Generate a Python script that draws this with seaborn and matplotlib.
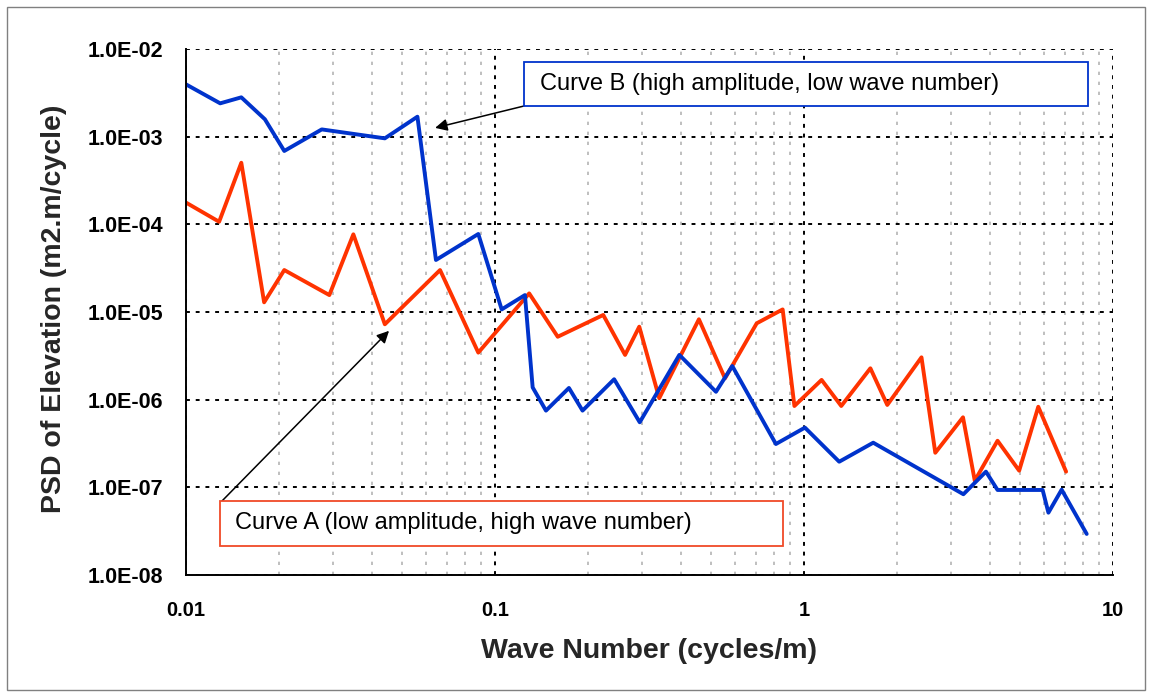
import numpy as np
import pandas as pd
import matplotlib
matplotlib.use("Agg")
import matplotlib.pyplot as plt
from matplotlib.patches import Rectangle
from matplotlib.ticker import FuncFormatter, LogLocator, NullFormatter
import seaborn as sns

# Curve B: high amplitude, low wave number
wave_b = [0.01, 0.0129, 0.0151, 0.0180, 0.0208, 0.0275, 0.0440, 0.0561, 0.0644,
          0.0883, 0.1051, 0.125, 0.1324, 0.1462, 0.1735, 0.192, 0.243, 0.294,
          0.395, 0.519, 0.586, 0.811, 1.007, 1.30, 1.675, 3.28, 3.88, 4.23,
          5.92, 6.18, 6.82, 8.22]
psd_b = [3.95e-3, 2.40e-3, 2.81e-3, 1.58e-3, 6.87e-4, 1.21e-3, 9.57e-4, 1.69e-3,
         3.92e-5, 7.76e-5, 1.07e-5, 1.56e-5, 1.38e-6, 7.5e-7, 1.36e-6, 7.5e-7,
         1.71e-6, 5.52e-7, 3.24e-6, 1.23e-6, 2.42e-6, 3.12e-7, 4.8e-7, 1.96e-7,
         3.23e-7, 8.34e-8, 1.51e-7, 9.33e-8, 9.33e-8, 5.14e-8, 9.4e-8, 2.94e-8]

# Curve A: low amplitude, high wave number
wave_a = [0.01, 0.0128, 0.0151, 0.0179, 0.0208, 0.0291, 0.0348, 0.0440, 0.0664,
          0.0883, 0.129, 0.1596, 0.224, 0.2636, 0.293, 0.340, 0.457, 0.555,
          0.703, 0.853, 0.931, 1.14, 1.32, 1.64, 1.86, 2.40, 2.66, 3.27, 3.57,
          4.23, 4.97, 5.73, 7.05]
psd_a = [1.77e-4, 1.07e-4, 5.04e-4, 1.29e-5, 3.01e-5, 1.56e-5, 7.69e-5, 7.24e-6,
         3.01e-5, 3.44e-6, 1.63e-5, 5.22e-6, 9.25e-6, 3.24e-6, 6.8e-6, 1.04e-6,
         8.26e-6, 1.75e-6, 7.43e-6, 1.07e-5, 8.47e-7, 1.68e-6, 8.47e-7, 2.28e-6,
         8.7e-7, 3.04e-6, 2.48e-7, 6.29e-7, 1.19e-7, 3.40e-7, 1.55e-7, 8.3e-7,
         1.51e-7]

x_ticks = [0.01, 0.1, 1, 10]
x_tick_labels = ["0.01", "0.1", "1", "10"]
y_ticks = [1e-8, 1e-7, 1e-6, 1e-5, 1e-4, 1e-3, 1e-2]

label_b = "Curve B (high amplitude, low wave number)"
label_a = "Curve A (low amplitude, high wave number)"

df = pd.concat([
    pd.DataFrame({"wave": wave_b, "psd": psd_b, "curve": "B"}),
    pd.DataFrame({"wave": wave_a, "psd": psd_a, "curve": "A"}),
], ignore_index=True)

sns.set_style("white")
plt.rcParams["font.family"] = ["Liberation Sans", "DejaVu Sans"]

blue = "#0033CC"
red = "#FF3300"

W, H = 1152, 697
fig = plt.figure(figsize=(W / 100, H / 100), dpi=100)
ax = fig.add_axes([186 / W, 1 - 575 / H, (1113 - 186) / W, (575 - 49) / H])


def px(x, y):
    """Pixel position (from top-left) to figure fraction."""
    return x / W, 1 - y / H


# outer frame of the chart area
fig.patches.append(Rectangle(px(7, 690), 1138 / W, 683 / H,
                             transform=fig.transFigure, fill=False,
                             edgecolor="#808080", linewidth=1.0))

sns.lineplot(data=df, x="wave", y="psd", hue="curve", palette={"B": blue, "A": red},
             hue_order=["A", "B"], sort=False, estimator=None, linewidth=2.8,
             legend=False, ax=ax)

ax.set_xscale("log")
ax.set_yscale("log")
ax.set_xlim(0.01, 10)
ax.set_ylim(1e-8, 1e-2)

ax.set_xticks(x_ticks)
ax.set_xticklabels(x_tick_labels)
ax.xaxis.set_minor_locator(LogLocator(base=10, subs=np.arange(2, 10)))
ax.xaxis.set_minor_formatter(NullFormatter())
ax.set_yticks(y_ticks)
ax.yaxis.set_minor_locator(plt.NullLocator())
ax.yaxis.set_major_formatter(FuncFormatter(lambda v, p: f"{v:.1E}"))

ax.grid(which="major", axis="both", color="black", linestyle=(0, (2, 3)), linewidth=1.4)
ax.grid(which="minor", axis="x", color="#b4b4b4", linestyle=(0, (2, 4)), linewidth=1.2)
ax.set_axisbelow(True)

for side in ["top", "right"]:
    ax.spines[side].set_visible(False)
for side in ["left", "bottom"]:
    ax.spines[side].set_color("black")
    ax.spines[side].set_linewidth(1.4)

ax.tick_params(axis="both", which="major", direction="out", length=6, width=1.0,
               colors="black")
ax.tick_params(axis="y", labelsize=15.5, pad=10.5)
ax.tick_params(axis="x", labelsize=14.5, pad=12.5)
ax.tick_params(axis="x", which="minor", length=0)
for lbl in ax.get_xticklabels() + ax.get_yticklabels():
    lbl.set_fontweight("bold")

ax.set_xlabel("Wave Number (cycles/m)", fontsize=20.5, fontweight="bold", va="center")
ax.set_ylabel("PSD of Elevation (m2.m/cycle)", fontsize=20.5, fontweight="bold", va="center")
ax.xaxis.set_label_coords(0.4995, -0.1445)
ax.yaxis.set_label_coords(-0.1424, 0.5067)

# callout boxes with their arrows
callouts = [
    (label_b, blue, (524, 62, 1088, 106), (540, 84), (524, 106), (0.064, 1.26e-3)),
    (label_a, "#F04A28", (220, 501, 783, 546), (235, 523), (222, 501), (0.0454, 6.1e-6)),
]
for text, edge, (x0, y0, x1, y1), (tx, ty), (ax0, ay0), tip in callouts:
    fig.patches.append(Rectangle(px(x0, y1), (x1 - x0) / W, (y1 - y0) / H,
                                 transform=fig.transFigure, facecolor="white",
                                 edgecolor=edge, linewidth=1.3, zorder=5))
    fig.text(*px(tx, ty), text, fontsize=17, ha="left", va="center",
             color="black", zorder=6)
    ax.annotate("", xy=tip, xycoords="data", xytext=px(ax0, ay0),
                textcoords="figure fraction",
                arrowprops=dict(arrowstyle="-|>", color="black", lw=1.1,
                                mutation_scale=18, shrinkA=0, shrinkB=0))

fig.savefig("out.png", dpi=100, facecolor="white")
